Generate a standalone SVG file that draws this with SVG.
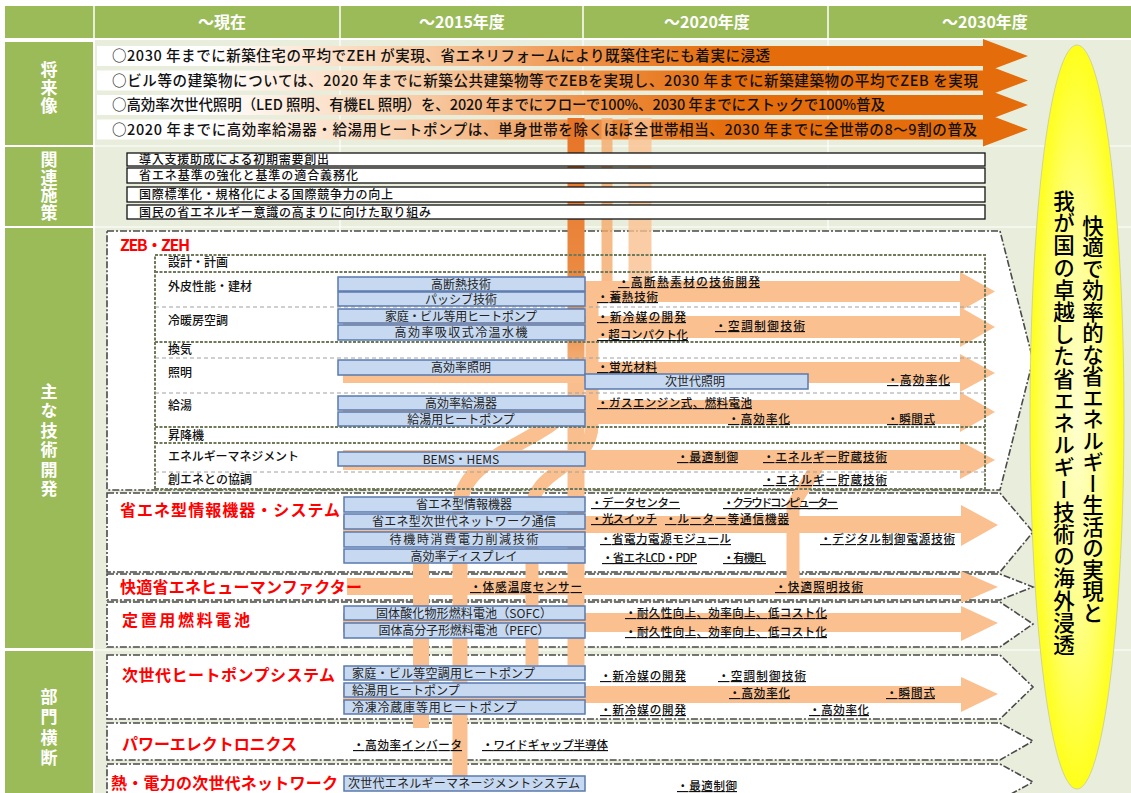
<svg xmlns="http://www.w3.org/2000/svg" width="1131" height="793" viewBox="0 0 1131 793">
<defs>
<style>
text{font-family:"Noto Sans CJK JP","Noto Sans",sans-serif;fill:#111}
.hd{font-size:16px;fill:#fff;text-anchor:middle;font-weight:bold}
.vl{font-size:17px;fill:#fff;writing-mode:vertical-rl;font-weight:bold}
.fut{font-size:14.5px;font-weight:500}
.pol{font-size:12px;font-weight:500}
.box{fill:#C6D9F1;stroke:#5A7AAE;stroke-width:1.5}
.bt{font-size:12px;text-anchor:middle;fill:#222}
.btl{font-size:12px;fill:#222}
.note{font-size:11.5px;text-decoration:underline;font-weight:500}
.red{font-size:16px;font-weight:bold;fill:#FF0000}
.lbl{font-size:12px;font-weight:500}
.blk{fill:#fff;stroke:#4a4a4a;stroke-width:1.6;stroke-dasharray:7 2 2 2}
.arr{fill:#FAC090}
.hv{stroke:#6E7A5A;stroke-width:2;stroke-dasharray:3 1.5;fill:none}
.lt{stroke:#A0A0A0;stroke-width:1;stroke-dasharray:4 3;fill:none}
.polbox{fill:#fff;stroke:#111;stroke-width:1.3}
.ov{font-size:21.5px;font-weight:500;writing-mode:vertical-rl;fill:#000}
</style>
<linearGradient id="futG" gradientUnits="userSpaceOnUse" x1="97" y1="0" x2="1030" y2="0">
<stop offset="0" stop-color="#FFFFFF"/>
<stop offset="0.12" stop-color="#FFFFFF"/>
<stop offset="0.35" stop-color="#F8CBA4"/>
<stop offset="0.52" stop-color="#EE9148"/>
<stop offset="0.68" stop-color="#E46C0A"/>
<stop offset="1" stop-color="#E46C0A"/>
</linearGradient>
<linearGradient id="swA" gradientUnits="userSpaceOnUse" x1="0" y1="120" x2="0" y2="665">
<stop offset="0" stop-color="#E67325"/>
<stop offset="0.38" stop-color="#EC924C"/>
<stop offset="0.48" stop-color="#F8BE8E"/>
<stop offset="1" stop-color="#FAC090"/>
</linearGradient>
<radialGradient id="ovG" cx="0.5" cy="0.5" r="0.5">
<stop offset="0" stop-color="#FFFFD0"/>
<stop offset="0.55" stop-color="#FFFF88"/>
<stop offset="1" stop-color="#FFFF1A"/>
</radialGradient>
</defs>

<rect width="1131" height="793" fill="#fff"/>
<rect x="95" y="40" width="1036" height="753" fill="#E8EEDB"/>
<g stroke="#fff" stroke-width="1.2">
<line x1="340" y1="40" x2="340" y2="793"/>
<line x1="583" y1="40" x2="583" y2="793"/>
<line x1="828" y1="40" x2="828" y2="793"/>
<line x1="95" y1="146" x2="1131" y2="146"/>
<line x1="95" y1="227" x2="1131" y2="227"/>
<line x1="95" y1="650" x2="1131" y2="650"/>
</g>

<g id="header">
<rect x="5" y="6" width="1126" height="32" fill="#9BBB59"/>
<g stroke="#fff" stroke-width="1.5">
<line x1="94" y1="6" x2="94" y2="38"/>
<line x1="340" y1="6" x2="340" y2="38"/>
<line x1="583" y1="6" x2="583" y2="38"/>
<line x1="828" y1="6" x2="828" y2="38"/>
</g>
<text class="hd" x="222" y="28">～現在</text>
<text class="hd" x="462" y="28">～2015年度</text>
<text class="hd" x="707" y="28">～2020年度</text>
<text class="hd" x="985" y="28">～2030年度</text>
</g>

<g id="side-labels">
<rect x="5" y="42" width="88" height="103" fill="#9BBB59"/>
<rect x="5" y="147" width="88" height="79" fill="#9BBB59"/>
<rect x="5" y="228" width="88" height="420" fill="#9BBB59"/>
<rect x="5" y="651" width="88" height="142" fill="#9BBB59"/>
<text class="vl" x="49" y="61" letter-spacing="1">将来像</text>
<text class="vl" x="49" y="151" letter-spacing="0.7">関連施策</text>
<text class="vl" x="49" y="383" letter-spacing="2.4">主な技術開発</text>
<text class="vl" x="49" y="688" letter-spacing="3.5">部門横断</text>
</g>

<g id="future-arrows">
<polygon fill="url(#futG)" points="97,46 983,46 983,39 1028,56 983,73 983,66 97,66"/>
<polygon fill="url(#futG)" points="97,70.5 983,70.5 983,63.5 1028,80.5 983,97.5 983,90.5 97,90.5"/>
<polygon fill="url(#futG)" points="97,95 983,95 983,88 1028,105 983,122 983,115 97,115"/>
<polygon fill="url(#futG)" points="97,119.5 983,119.5 983,112.5 1028,129.5 983,146.5 983,139.5 97,139.5"/>
</g>

<g id="blocks">
<polygon class="blk" points="107,231 1000,231 1033,360 1000,490 107,490"/>
<polygon class="blk" points="107,493 1000,493 1033,532 1000,572 107,572"/>
<polygon class="blk" points="107,574 1000,574 1033,587 1000,600 107,600"/>
<polygon class="blk" points="107,602 1000,602 1033,624 1000,647 107,647"/>
<polygon class="blk" points="107,655 1000,655 1033,687 1000,719 107,719"/>
<polygon class="blk" points="107,723 1000,723 1033,741 1000,760 107,760"/>
<polygon class="blk" points="107,764 1000,764 1033,782 1000,800 107,800"/>
</g>

<g id="swooshes" fill="none">
<path d="M576 665 V118" stroke="url(#swA)" stroke-width="17"/>
<path d="M532 665 V510 C532 468 592 468 592 425 V290" stroke="#FAC090" stroke-width="13"/>
<path d="M460 790 V508 C460 455 540 445 572 405" stroke="#FAC090" stroke-width="15"/>
<path d="M607 290 V118" stroke="#F5A96B" stroke-width="11" opacity="0.8"/>
<path d="M640 290 V118" stroke="#FAC090" stroke-width="23" opacity="0.8"/>
<path d="M421 728 V560" stroke="#FAC090" stroke-width="16"/>
<path d="M793 590 V505 L818 465" stroke="#FAC090" stroke-width="13"/>
</g>

<g id="future-text">
<text class="fut" x="112" y="61" textLength="658">○2030 年までに新築住宅の平均でZEH が実現、省エネリフォームにより既築住宅にも着実に浸透</text>
<text class="fut" x="112" y="86" textLength="866">○ビル等の建築物については、2020 年までに新築公共建築物等でZEBを実現し、2030 年までに新築建築物の平均でZEB を実現</text>
<text class="fut" x="112" y="110" textLength="773">○高効率次世代照明（LED 照明、有機EL 照明）を、2020 年までにフローで100%、2030 年までにストックで100%普及</text>
<text class="fut" x="112" y="135" textLength="865">○2020 年までに高効率給湯器・給湯用ヒートポンプは、単身世帯を除くほぼ全世帯相当、2030 年までに全世帯の8～9割の普及</text>
</g>

<g id="policies">
<rect class="polbox" x="127" y="153" width="858" height="13"/>
<rect class="polbox" x="127" y="168" width="858" height="15"/>
<rect class="polbox" x="127" y="187" width="858" height="15"/>
<rect class="polbox" x="127" y="205" width="858" height="14"/>
<text class="pol" x="139" y="164" textLength="190">導入支援助成による初期需要創出</text>
<text class="pol" x="139" y="180" textLength="219">省エネ基準の強化と基準の適合義務化</text>
<text class="pol" x="139" y="199" textLength="254">国際標準化・規格化による国際競争力の向上</text>
<text class="pol" x="139" y="216.5" textLength="292">国民の省エネルギー意識の高まりに向けた取り組み</text>
</g>

<g id="connectors">
<polygon class="arr" points="343,281 960,281 960,272 995,291.5 960,311 960,302 343,302"/>
<polygon class="arr" points="343,316 960,316 960,307 995,327 960,347 960,338 343,338"/>
<polygon class="arr" points="343,362 960,362 960,354 995,373 960,392 960,383 343,383"/>
<polygon class="arr" points="343,400 960,400 960,392 995,412 960,432 960,424 343,424"/>
<polygon class="arr" points="343,450 960,450 960,441 995,460 960,479 960,470 343,470"/>
<polygon class="arr" points="343,516 961,516 961,505 998,525 961,546 961,533 343,533"/>
<polygon class="arr" points="347,578 961,578 961,571 998,587 961,603 961,595 347,595"/>
<polygon class="arr" points="343,613 961,613 961,606 998,623 961,641 961,632 343,632"/>
<polygon class="arr" points="343,686 961,686 961,677 998,694 961,712 961,703 343,703"/>
</g>

<g id="zeb-grid">
<path class="hv" d="M155 489 V255 H985 V489 H155"/>
<line class="hv" x1="155" y1="272" x2="985" y2="272"/>
<line class="lt" x1="155" y1="307" x2="985" y2="307"/>
<line class="hv" x1="155" y1="342" x2="985" y2="342"/>
<line class="lt" x1="155" y1="358" x2="985" y2="358"/>
<line class="lt" x1="155" y1="393" x2="985" y2="393"/>
<line class="hv" x1="155" y1="427" x2="985" y2="427"/>
<line class="hv" x1="155" y1="443" x2="985" y2="443"/>
<line class="lt" x1="155" y1="472" x2="985" y2="472"/>
</g>

<g id="zeb">
<text class="red" x="120" y="251" font-size="15" textLength="70">ZEB・ZEH</text>
<text class="lbl" x="168" y="267">設計・計画</text>
<text class="lbl" x="168" y="291">外皮性能・建材</text>
<text class="lbl" x="168" y="325">冷暖房空調</text>
<text class="lbl" x="168" y="354">換気</text>
<text class="lbl" x="168" y="377">照明</text>
<text class="lbl" x="168" y="410">給湯</text>
<text class="lbl" x="168" y="440">昇降機</text>
<text class="lbl" x="168" y="461" textLength="131">エネルギーマネジメント</text>
<text class="lbl" x="168" y="484">創エネとの協調</text>
<rect class="box" x="338" y="277" width="247" height="14"/>
<rect class="box" x="338" y="292" width="247" height="14"/>
<rect class="box" x="338" y="309" width="247" height="14"/>
<rect class="box" x="338" y="325" width="247" height="15"/>
<rect class="box" x="338" y="360" width="247" height="15"/>
<rect class="box" x="585" y="374" width="223" height="15"/>
<rect class="box" x="338" y="396" width="247" height="14"/>
<rect class="box" x="338" y="412" width="247" height="14"/>
<rect class="box" x="338" y="452" width="247" height="14"/>
<text class="bt" x="461" y="288.5">高断熱技術</text>
<text class="bt" x="461" y="303.5">パッシブ技術</text>
<text class="bt" x="461" y="320.5" textLength="152">家庭・ビル等用ヒートポンプ</text>
<text class="bt" x="461" y="337" textLength="133">高効率吸収式冷温水機</text>
<text class="bt" x="461" y="372">高効率照明</text>
<text class="bt" x="695" y="386">次世代照明</text>
<text class="bt" x="461" y="407.5">高効率給湯器</text>
<text class="bt" x="461" y="423.5">給湯用ヒートポンプ</text>
<text class="bt" x="461" y="463.5" font-size="11">BEMS・HEMS</text>
<text class="note" x="618" y="286" textLength="142">・高断熱素材の技術開発</text>
<text class="note" x="597" y="301" textLength="61">・蓄熱技術</text>
<text class="note" x="597" y="321" textLength="89">・新冷媒の開発</text>
<text class="note" x="715" y="330" textLength="90">・空調制御技術</text>
<text class="note" x="597" y="339" textLength="91">・超コンパクト化</text>
<text class="note" x="597" y="371" textLength="60">・蛍光材料</text>
<text class="note" x="887" y="384" textLength="63">・高効率化</text>
<text class="note" x="597" y="407" textLength="155">・ガスエンジン式、燃料電池</text>
<text class="note" x="728" y="423" textLength="62">・高効率化</text>
<text class="note" x="887" y="423" textLength="48">・瞬間式</text>
<text class="note" x="677" y="461" textLength="61">・最適制御</text>
<text class="note" x="763" y="461" textLength="124">・エネルギー貯蔵技術</text>
<text class="note" x="763" y="484" textLength="124">・エネルギー貯蔵技術</text>
</g>

<g id="info">
<text class="red" x="120" y="516" textLength="220">省エネ型情報機器・システム</text>
<rect class="box" x="344" y="497" width="241" height="15"/>
<rect class="box" x="344" y="514" width="241" height="15"/>
<rect class="box" x="344" y="532" width="241" height="15"/>
<rect class="box" x="344" y="549" width="241" height="14"/>
<text class="bt" x="464" y="509">省エネ型情報機器</text>
<text class="bt" x="464" y="526" textLength="184">省エネ型次世代ネットワーク通信</text>
<text class="bt" x="464" y="544" textLength="149">待機時消費電力削減技術</text>
<text class="bt" x="464" y="560.5">高効率ディスプレイ</text>
<text class="note" x="591" y="507" textLength="89">・データセンター</text>
<text class="note" x="723" y="507" textLength="115">・クラウドコンピューター</text>
<text class="note" x="591" y="523" textLength="66">・光スイッチ</text>
<text class="note" x="665" y="523" textLength="124">・ルーター等通信機器</text>
<text class="note" x="600" y="543" textLength="131">・省電力電源モジュール</text>
<text class="note" x="820" y="543" textLength="135">・デジタル制御電源技術</text>
<text class="note" x="602" y="562" textLength="95">・省エネLCD・PDP</text>
<text class="note" x="723" y="562" textLength="43">・有機EL</text>
</g>

<g id="comfort">
<text class="red" x="120" y="593" textLength="242">快適省エネヒューマンファクター</text>
<text class="note" x="470" y="591" textLength="112">・体感温度センサー</text>
<text class="note" x="775" y="591" textLength="88">・快適照明技術</text>
</g>

<g id="fuelcell">
<text class="red" x="122" y="626" font-size="17" textLength="128">定置用燃料電池</text>
<rect class="box" x="344" y="606" width="241" height="14"/>
<rect class="box" x="344" y="623" width="241" height="15"/>
<text class="bt" x="464" y="617.5" textLength="176">固体酸化物形燃料電池（SOFC）</text>
<text class="bt" x="464" y="635" textLength="171">固体高分子形燃料電池（PEFC）</text>
<text class="note" x="625" y="617" textLength="202">・耐久性向上、効率向上、低コスト化</text>
<text class="note" x="625" y="636" textLength="202">・耐久性向上、効率向上、低コスト化</text>
</g>

<g id="heatpump">
<text class="red" x="122" y="681" textLength="213">次世代ヒートポンプシステム</text>
<rect class="box" x="344" y="666" width="241" height="14"/>
<rect class="box" x="344" y="683" width="241" height="14"/>
<rect class="box" x="344" y="700" width="241" height="14"/>
<text class="btl" x="352" y="677.5" textLength="183">家庭・ビル等空調用ヒートポンプ</text>
<text class="btl" x="352" y="694.5">給湯用ヒートポンプ</text>
<text class="btl" x="352" y="711.5" textLength="165">冷凍冷蔵庫等用ヒートポンプ</text>
<text class="note" x="600" y="680" textLength="86">・新冷媒の開発</text>
<text class="note" x="718" y="680" textLength="88">・空調制御技術</text>
<text class="note" x="729" y="697" textLength="61">・高効率化</text>
<text class="note" x="886" y="697" textLength="49">・瞬間式</text>
<text class="note" x="600" y="714" textLength="86">・新冷媒の開発</text>
<text class="note" x="809" y="714" textLength="60">・高効率化</text>
</g>

<g id="powerelec">
<text class="red" x="122" y="750" textLength="175">パワーエレクトロニクス</text>
<text class="note" x="353" y="749" textLength="109">・高効率インバータ</text>
<text class="note" x="482" y="749" textLength="126">・ワイドギャップ半導体</text>
</g>

<g id="network">
<text class="red" x="111" y="789" textLength="227">熱・電力の次世代ネットワーク</text>
<rect class="box" x="344" y="776" width="241" height="15"/>
<text class="btl" x="348" y="788" textLength="232">次世代エネルギーマネージメントシステム</text>
<text class="note" x="677" y="790" textLength="60">・最適制御</text>
</g>

<g id="goal">
<ellipse cx="1077" cy="417" rx="47" ry="372" fill="url(#ovG)" stroke="#C9C9A0" stroke-width="0.8"/>
<text class="ov" x="1093" y="215">快適で効率的な省エネルギー生活の実現と</text>
<text class="ov" x="1064" y="190" letter-spacing="0.7">我が国の卓越した省エネルギー技術の海外浸透</text>
</g>
</svg>
